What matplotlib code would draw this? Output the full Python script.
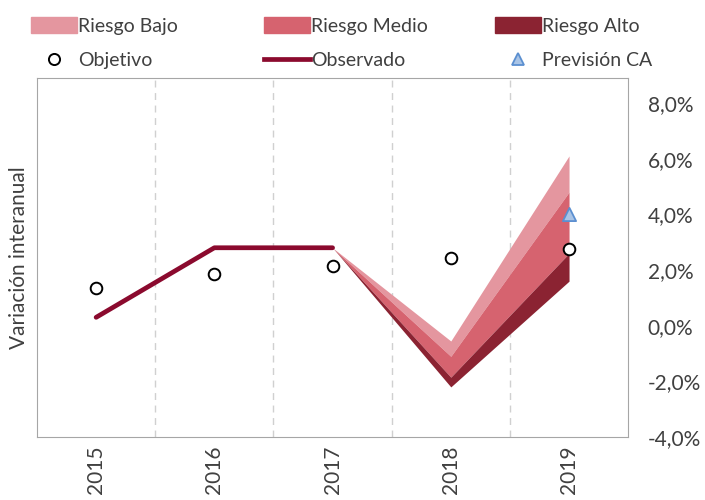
import numpy as np
import matplotlib.pyplot as plt
from matplotlib.patches import Patch
from matplotlib.lines import Line2D
from matplotlib.ticker import FuncFormatter

plt.rcParams['font.family'] = ['Lato', 'DejaVu Sans']

# データ ---------------------------------------------------------------
years = ['2015', '2016', '2017', '2018', '2019']
observado = [0.3, 2.8, 2.8]          # 2015-2017
objetivo = [1.35, 1.85, 2.15, 2.45, 2.75]
prevision_ca = 4.0                   # 2019

# 扇形 (2017-2019)
fan_years = [2, 3, 4]
fan_top = [2.8, -0.55, 6.1]
fan_b1 = [2.8, -1.1, 4.8]
fan_b2 = [2.8, -1.85, 2.6]
fan_bottom = [2.8, -2.2, 1.6]

c_bajo = '#E4969F'
c_medio = '#D6636F'
c_alto = '#8B2332'
c_obs = '#8B0A2E'
txt = '#404040'

fig = plt.figure(figsize=(7.05, 5), dpi=100)
ax = fig.add_axes([0.0525, 0.126, 0.8385, 0.718])

x = np.arange(len(years))
ax.fill_between(fan_years, fan_b1, fan_top, color=c_bajo, lw=0)
ax.fill_between(fan_years, fan_b2, fan_b1, color=c_medio, lw=0)
ax.fill_between(fan_years, fan_bottom, fan_b2, color=c_alto, lw=0)
ax.plot(x[:len(observado)], observado, color=c_obs, lw=3.4, solid_capstyle='round', zorder=3)
ax.scatter(x, objetivo, s=70, facecolor='white', edgecolor='black', lw=1.4, zorder=4)
ax.scatter([4], [prevision_ca], marker='^', s=90, facecolor='#A9C4E6', edgecolor='#5B8FD0', lw=1.3, zorder=5)

ax.set_xlim(-0.5, 4.5)
ax.set_ylim(-4, 8.9)
ax.set_xticks(x)
ax.set_xticklabels(years, rotation=90, fontsize=15, color=txt)
ax.set_yticks(np.arange(-4, 9, 2))
ax.yaxis.tick_right()
ax.yaxis.set_major_formatter(FuncFormatter(lambda v, p: f'{v:.1f}%'.replace('.', ',')))
ax.tick_params(axis='y', labelsize=15, colors=txt, length=0, pad=14)
ax.tick_params(axis='x', length=0, pad=6)
for xv in np.arange(0.5, 4.5, 1):
    ax.axvline(xv, color='#D0D0D0', lw=1, ls=(0, (5, 4)), zorder=0)
for s in ax.spines.values():
    s.set_color('#A6A6A6')
ax.set_ylabel('Variación interanual', fontsize=15, color=txt, labelpad=6)

# 凡例 (列ごと) ----------------------------------------------------------
cols = [
    ([Patch(color=c_bajo), Line2D([], [], marker='o', ls='none', mfc='white', mec='black', mew=1.4, ms=8)],
     ['Riesgo Bajo', 'Objetivo'], 31),
    ([Patch(color=c_medio), Line2D([], [], color=c_obs, lw=3.4)],
     ['Riesgo Medio', 'Observado'], 264),
    ([Patch(color=c_alto), Line2D([], [], marker='^', ls='none', mfc='#A9C4E6', mec='#5B8FD0', mew=1.3, ms=9)],
     ['Riesgo Alto', 'Previsión CA'], 495),
]
for h, l, px in cols:
    leg = fig.legend(h, l, loc='center left', bbox_to_anchor=(px / 705, 1 - 43 / 500),
                     frameon=False, fontsize=14, handlelength=2.35, handleheight=0.85,
                     handletextpad=0.05, labelspacing=0.85, borderpad=0, borderaxespad=0)
    for t in leg.get_texts():
        t.set_color(txt)

plt.savefig('out.png')
